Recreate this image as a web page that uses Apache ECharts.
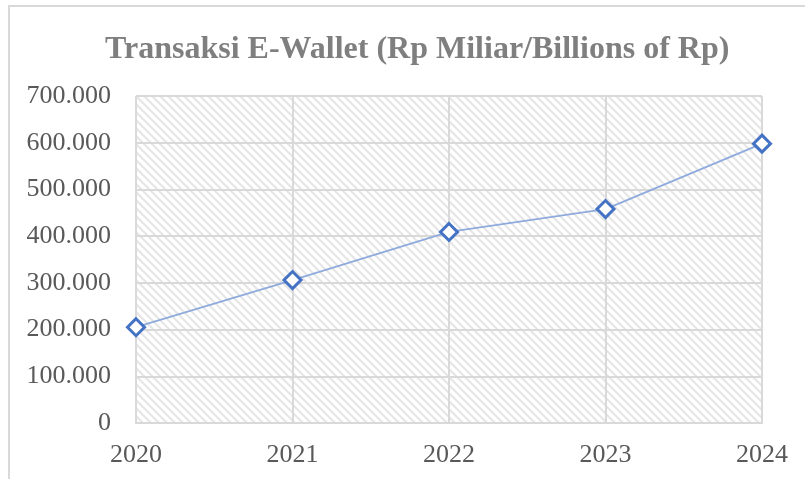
<!DOCTYPE html>
<html>
<head>
<meta charset="utf-8">
<script src="https://cdn.jsdelivr.net/npm/echarts@6/dist/echarts.min.js"></script>
<style>
  html, body { margin: 0; padding: 0; background: #fff; }
  #frame { position: absolute; left: 8px; top: 5px; width: 805px; height: 480px;
           border-left: 2px solid #d9d9d9; border-top: 2px solid #d9d9d9; }
  #chart { position: absolute; left: 0; top: 0; width: 805px; height: 479px; }
</style>
</head>
<body>
<div id="frame"></div>
<div id="chart"></div>
<script>
const years = ['2020', '2021', '2022', '2023', '2024'];
const transaksi = [205000, 306000, 409000, 458000, 598000];

// diagonal hatch for the plot area
function hatch() {
  const c = document.createElement('canvas');
  c.width = 8; c.height = 8;
  const g = c.getContext('2d');
  g.fillStyle = '#ffffff';
  g.fillRect(0, 0, 8, 8);
  g.strokeStyle = '#e6e6e6';
  g.lineWidth = 2.2;
  g.beginPath();
  g.moveTo(-2, -2); g.lineTo(10, 10);
  g.moveTo(-2, 6); g.lineTo(2, 10);
  g.moveTo(6, -2); g.lineTo(10, 2);
  g.stroke();
  return c;
}

function fmt(v) {
  return v === 0 ? '0' : String(v).replace(/\B(?=(\d{3})+(?!\d))/g, '.');
}

const chart = echarts.init(document.getElementById('chart'), null, { renderer: 'canvas' });
chart.setOption({
  animation: false,
  title: {
    text: 'Transaksi E-Wallet (Rp Miliar/Billions of Rp)',
    left: 100,
    top: 29,
    textStyle: {
      fontFamily: 'Liberation Serif',
      fontWeight: 'bold',
      fontSize: 32,
      color: '#7f7f7f'
    }
  },
  grid: {
    left: 136,
    right: 43,
    top: 96,
    bottom: 56,
    show: true,
    borderWidth: 0,
    backgroundColor: { image: hatch(), repeat: 'repeat' }
  },
  xAxis: {
    type: 'category',
    data: years,
    boundaryGap: false,
    axisLine: { lineStyle: { color: '#d9d9d9', width: 2 } },
    axisTick: { show: false },
    splitLine: { show: true, lineStyle: { color: '#d9d9d9', width: 2 } },
    axisLabel: {
      fontFamily: 'Liberation Serif',
      fontSize: 26,
      color: '#595959',
      margin: 19
    }
  },
  yAxis: {
    type: 'value',
    min: 0,
    max: 700000,
    interval: 100000,
    axisLine: { show: false },
    axisTick: { show: false },
    splitLine: { lineStyle: { color: '#d9d9d9', width: 2 } },
    axisLabel: {
      fontFamily: 'Liberation Serif',
      fontSize: 26,
      color: '#595959',
      margin: 25,
      formatter: fmt
    }
  },
  series: [{
    type: 'line',
    data: transaksi,
    symbol: 'diamond',
    symbolSize: 17,
    lineStyle: { color: '#8faadc', width: 1.8 },
    itemStyle: { color: '#ffffff', borderColor: '#4472c4', borderWidth: 3 }
  }]
});
</script>
</body>
</html>
